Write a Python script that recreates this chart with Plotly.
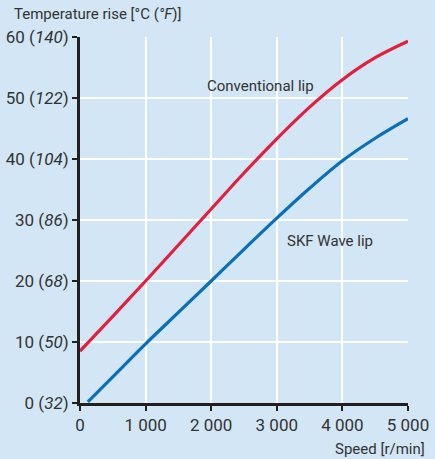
import plotly.graph_objects as go

speed_conv = [0, 500, 1000, 1500, 2000, 2500, 3000, 3500, 4000, 4500, 5000]
temp_conv = [8.5, 14.2, 20.0, 25.9, 31.8, 37.7, 43.3, 48.5, 53.0, 56.6, 59.3]

speed_wave = [120, 500, 1000, 1500, 2000, 2500, 3000, 3500, 4000, 4500, 5000]
temp_wave = [0.2, 4.3, 9.7, 14.85, 20.0, 25.2, 30.3, 35.2, 39.7, 43.4, 46.6]

y_ticks = [0, 10, 20, 30, 40, 50, 60]
y_ticktext = ["0 (<i>32</i>)", "10 (<i>50</i>)", "20 (<i>68</i>)", "30 (<i>86</i>)",
              "40 (<i>104</i>)", "50 (<i>122</i>)", "60 (<i>140</i>)"]
x_ticks = [0, 1000, 2000, 3000, 4000, 5000]
x_ticktext = ["0", "1 000", "2 000", "3 000", "4 000", "5 000"]

FONT = "Roboto"
TXT = "#333333"

fig = go.Figure()
fig.add_trace(go.Scatter(x=speed_conv, y=temp_conv, mode="lines",
                         line=dict(color="#e21f3d", width=3.2, shape="spline", smoothing=1.0),
                         hoverinfo="skip", showlegend=False))
fig.add_trace(go.Scatter(x=speed_wave, y=temp_wave, mode="lines",
                         line=dict(color="#0a6fb9", width=3.2, shape="spline", smoothing=1.0),
                         hoverinfo="skip", showlegend=False))

fig.add_annotation(x=2752, y=52.0, text="Conventional lip", showarrow=False, xanchor="center", yanchor="middle",
                   font=dict(family=FONT, size=15, color=TXT))
fig.add_annotation(x=3811, y=26.6, text="SKF Wave lip", showarrow=False, xanchor="center", yanchor="middle",
                   font=dict(family=FONT, size=15, color=TXT))
fig.add_annotation(xref="paper", yref="paper", x=-0.207, y=1.0, yshift=23, text="Temperature rise [°C (<i>°F</i>)]",
                   showarrow=False, xanchor="left", yanchor="middle", font=dict(family=FONT, size=15, color=TXT))
fig.add_annotation(xref="paper", yref="paper", x=1.058, y=0, yshift=-46, text="Speed [r/min]",
                   showarrow=False, xanchor="right", yanchor="middle", font=dict(family=FONT, size=15, color=TXT))

fig.update_layout(
    width=435, height=459,
    margin=dict(l=80, r=27, t=37, b=56, autoexpand=False),
    paper_bgcolor="#d2e6f5", plot_bgcolor="#d2e6f5",
    font=dict(family=FONT, size=17, color=TXT),
)
axis_style = dict(showgrid=True, gridcolor="white", gridwidth=1.5, showline=True, linecolor="#231f20",
                  linewidth=3, ticks="outside", ticklen=5, tickwidth=2, tickcolor="#231f20",
                  zeroline=False, fixedrange=True, automargin=False,
                  tickfont=dict(family=FONT, size=17, color=TXT))
fig.update_xaxes(range=[0, 5000], tickvals=x_ticks, ticktext=x_ticktext, **axis_style)
fig.update_yaxes(range=[0, 60], tickvals=y_ticks, ticktext=y_ticktext, **axis_style)

fig.write_html("out.html", config={"displayModeBar": False},
               post_script="document.body.style.margin='0';")
